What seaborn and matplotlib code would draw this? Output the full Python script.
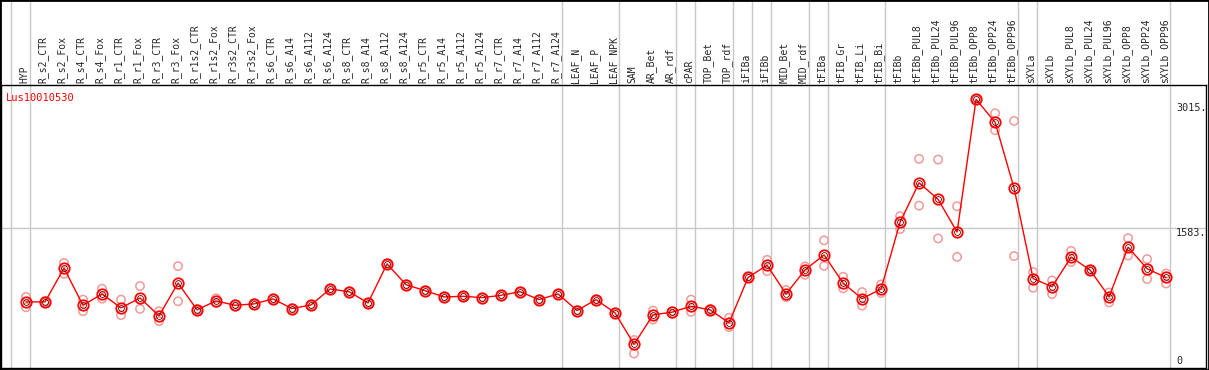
# expression profile chart, one gene across tissues
import pandas as pd
import seaborn as sns
import matplotlib.pyplot as plt
from matplotlib.patches import Rectangle
from matplotlib import transforms

gene = 'Lus10010530'

samples = ['HYP', 'R_s2_CTR', 'R_s2_Fox', 'R_s4_CTR', 'R_s4_Fox', 'R_r1_CTR', 'R_r1_Fox',
           'R_r3_CTR', 'R_r3_Fox', 'R_r1s2_CTR', 'R_r1s2_Fox', 'R_r3s2_CTR', 'R_r3s2_Fox',
           'R_s6_CTR', 'R_s6_A14', 'R_s6_A112', 'R_s6_A124', 'R_s8_CTR', 'R_s8_A14', 'R_s8_A112',
           'R_s8_A124', 'R_r5_CTR', 'R_r5_A14', 'R_r5_A112', 'R_r5_A124', 'R_r7_CTR', 'R_r7_A14',
           'R_r7_A112', 'R_r7_A124', 'LEAF_N', 'LEAF_P', 'LEAF_NPK', 'SAM', 'AR_Bet', 'AR_rdf',
           'cPAR', 'TOP_Bet', 'TOP_rdf', 'iFIBa', 'iFIBb', 'MID_Bet', 'MID_rdf', 'tFIBa',
           'tFIB_Gr', 'tFIB_Li', 'tFIB_Bi', 'tFIBb', 'tFIBb_PUL8', 'tFIBb_PUL24', 'tFIBb_PUL96',
           'tFIBb_OPP8', 'tFIBb_OPP24', 'tFIBb_OPP96', 'sXYLa', 'sXYLb', 'sXYLb_PUL8',
           'sXYLb_PUL24', 'sXYLb_PUL96', 'sXYLb_OPP8', 'sXYLb_OPP24', 'sXYLb_OPP96']

# mean expression per sample
mean_expr = [737, 737, 1124, 698, 828, 668, 782, 577, 953, 646, 748, 698, 714,
             771, 661, 702, 885, 854, 725, 1173, 934, 866, 794, 801, 786, 812, 854,
             763, 828, 638, 763, 611, 251, 589, 619, 687, 646, 497, 1017, 1158, 828,
             1105, 1276, 953, 774, 885, 1651, 2103, 1913, 1538, 3060, 2797, 2041,
             1005, 911, 1251, 1102, 796, 1365, 1117, 1017]

# replicate values
rep_a = [794, 745, 1184, 763, 888, 763, 919, 630, 1147, 655, 778, 710, 720,
         775, 665, 706, 890, 858, 730, 1178, 938, 870, 798, 805, 790, 816, 858,
         767, 832, 642, 767, 615, 300, 638, 630, 763, 655, 555, 1025, 1219, 873,
         1143, 1443, 1025, 850, 937, 1720, 2377, 2369, 1834, 3065, 2900, 2812,
         1079, 983, 1323, 1110, 845, 1468, 1228, 1063]
rep_b = [675, 730, 1059, 630, 774, 585, 657, 516, 744, 640, 725, 685, 705,
         767, 657, 698, 880, 850, 720, 1168, 930, 862, 790, 797, 782, 808, 850,
         759, 824, 634, 759, 607, 145, 535, 600, 623, 640, 448, 1010, 1090, 790,
         1048, 1150, 892, 695, 839, 1572, 1841, 1465, 1253, 3055, 2706, 1262,
         899, 827, 1194, 1095, 731, 1269, 999, 948]

# group borders sit just after these sample indices
group_ends = [-1, 0, 28, 31, 34, 35, 37, 38, 39, 41, 42, 45, 52, 53, 60]
y_ticks = [0, 1583, 3015]
y_tick_labels = ['0', '1583.', '3015.']

df = pd.DataFrame({'sample': samples, 'mean': mean_expr})
df_rep = pd.DataFrame({'sample': samples + samples, 'value': rep_a + rep_b})

sns.set_style('white')
plt.rcParams['font.family'] = ['DejaVu Sans Mono', 'DejaVu Sans']

W, H = 1209, 370
fig = plt.figure(figsize=(W / 100, H / 100), dpi=100)
ax = fig.add_axes([1 / W, 2 / H, 1205 / W, 283 / H])

# lines first so the category order is the sample order
sns.lineplot(data=df, x='sample', y='mean', sort=False, estimator=None, color='red',
             linewidth=1, marker='o', markersize=7.5, markerfacecolor='none',
             markeredgecolor='red', markeredgewidth=1.3, ax=ax, zorder=4)
ax.plot(range(len(samples)), mean_expr, linestyle='none', marker='o', markersize=4.2,
        markerfacecolor='none', markeredgecolor='#600000', markeredgewidth=0.6, zorder=5)
sns.scatterplot(data=df_rep, x='sample', y='value', s=36, ax=ax, zorder=3)
coll = ax.collections[-1]
coll.set_facecolor('none')
coll.set_edgecolor('#f09a9a')
coll.set_linewidth(1.1)

ax.set_xlim(-1.316, 62.1)
ax.set_ylim(-21, 3224)

# grey grid
ax.axhline(1583, color='#c8c8c8', lw=1, zorder=1)
top_frac = (H - 2) / 283
for b in group_ends:
    ax.axvline(b + 0.21, ymin=0, ymax=top_frac, color='#c8c8c8', lw=1, zorder=1, clip_on=False)

# sample names on top
ax.xaxis.tick_top()
ax.set_xticks(range(len(samples)))
ax.set_xticklabels(samples, rotation=90, fontsize=7)
ax.tick_params(axis='x', length=0, pad=1.5)
shift = transforms.ScaledTranslation(-2 / 100, 0, fig.dpi_scale_trans)
for lab in ax.get_xticklabels():
    lab.set_transform(lab.get_transform() + shift)
ax.set_xlabel('')
ax.set_ylabel('')
ax.set_yticks([])

# value labels inside the right edge
ytrans = transforms.blended_transform_factory(ax.transAxes, ax.transData)
for v, t in zip(y_ticks, y_tick_labels):
    ax.text(0.9752, v, t, transform=ytrans, fontsize=7.3, ha='left',
            va='bottom' if v == 0 else 'top')

ax.text(0.004, 0.972, gene, transform=ax.transAxes, color='red', fontsize=7.5,
        ha='left', va='top')

for s in ax.spines.values():
    s.set_color('black')
    s.set_linewidth(1)

fig.add_artist(Rectangle((0, 0), 1, 1, transform=fig.transFigure, fill=False,
                         edgecolor='black', lw=2))

fig.savefig('out.png', dpi=100)
